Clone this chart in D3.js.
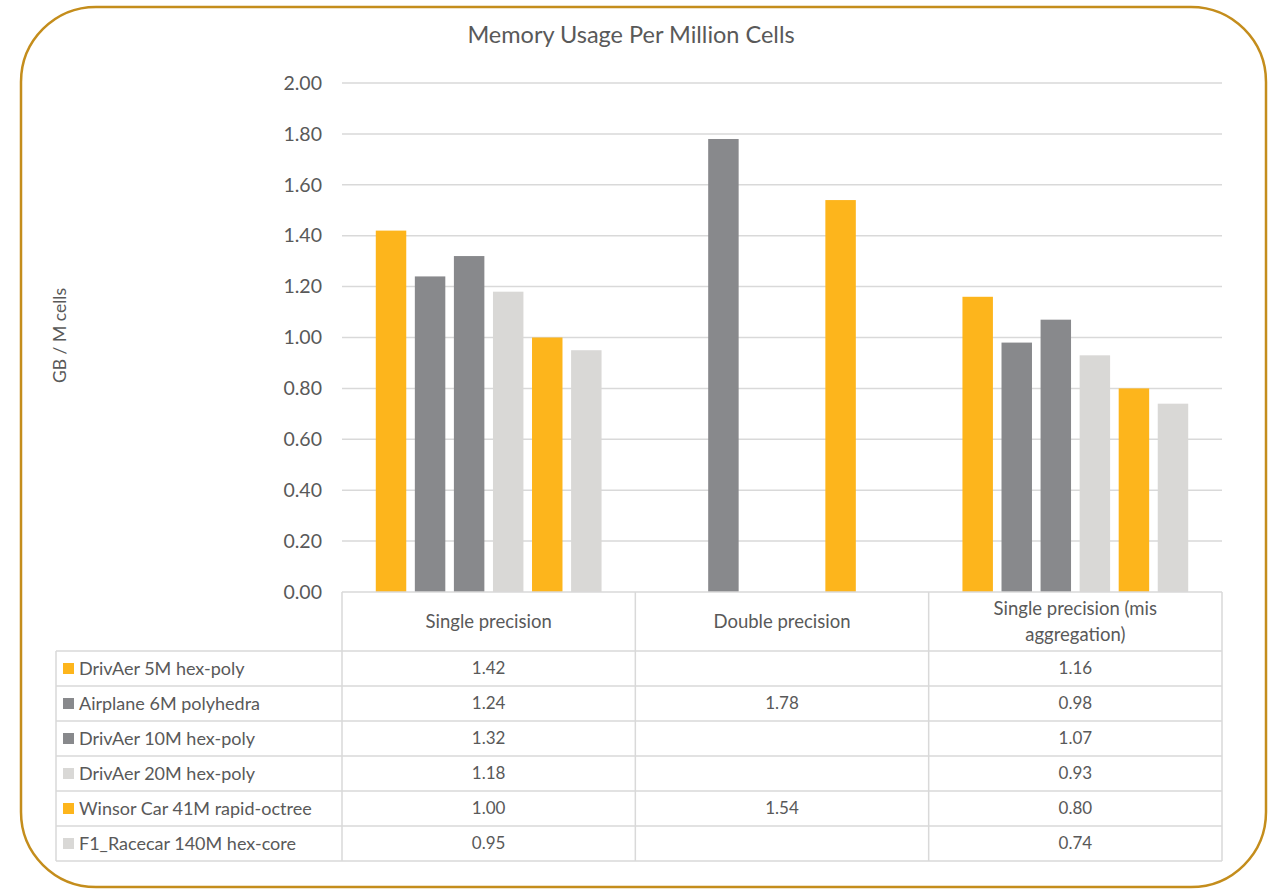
<!DOCTYPE html>
<html>
<head>
<meta charset="utf-8">
<script src="https://cdn.jsdelivr.net/npm/d3@7"></script>
<style>
  body { margin: 0; background: #fff; }
  svg { display: block; }
  text { font-family: Lato, "Open Sans", sans-serif; fill: #595959; }
</style>
</head>
<body>
<svg id="chart" width="1273" height="889"></svg>
<script>
// Chart data
const categories = ["Single precision", "Double precision", "Single precision (mis aggregation)"];
const categoryLabelLines = [["Single precision"], ["Double precision"], ["Single precision (mis", "aggregation)"]];
const seriesNames = [
  "DrivAer 5M hex-poly",
  "Airplane 6M polyhedra",
  "DrivAer 10M hex-poly",
  "DrivAer 20M hex-poly",
  "Winsor Car 41M rapid-octree",
  "F1_Racecar 140M hex-core"
];
const seriesColors = ["#FDB51C", "#88898C", "#88898C", "#D9D8D6", "#FDB51C", "#D9D8D6"];
const singlePrecision = [1.42, 1.24, 1.32, 1.18, 1.00, 0.95];
const doublePrecision = [null, 1.78, null, null, 1.54, null];
const misAggregation  = [1.16, 0.98, 1.07, 0.93, 0.80, 0.74];
const yTicks = [0, 0.2, 0.4, 0.6, 0.8, 1.0, 1.2, 1.4, 1.6, 1.8, 2.0];
const titleText = "Memory Usage Per Million Cells";
const yAxisTitle = "GB / M cells";

const valuesByCategory = [singlePrecision, doublePrecision, misAggregation];

const svg = d3.select("#chart");

// Outer rounded frame
svg.append("rect")
  .attr("x", 21).attr("y", 7)
  .attr("width", 1245).attr("height", 880)
  .attr("rx", 75).attr("ry", 75)
  .attr("fill", "#fff")
  .attr("stroke", "#C48D1C")
  .attr("stroke-width", 2.5);

// Plot geometry
const plot = { left: 342, right: 1222, top: 83, bottom: 592 };
const gridColor = "#D9D9D9";

const y = d3.scaleLinear().domain([0, 2]).range([plot.bottom, plot.top]);
const x0 = d3.scaleBand().domain(categories).range([plot.left, plot.right]).padding(0);
const x1 = d3.scaleBand().domain(d3.range(seriesNames.length))
  .range([0, x0.bandwidth()])
  .paddingInner(0.22)
  .paddingOuter(0.865);

// Title
svg.append("text")
  .attr("x", 631).attr("y", 43)
  .attr("text-anchor", "middle")
  .style("font-size", "23.5px")
  .text(titleText);

// Gridlines
svg.append("g")
  .selectAll("line")
  .data(yTicks.filter(d => d > 0))
  .join("line")
  .attr("x1", plot.left).attr("x2", plot.right)
  .attr("y1", d => y(d)).attr("y2", d => y(d))
  .attr("stroke", gridColor).attr("stroke-width", 1.5);

// Y axis labels
const yAxis = d3.axisLeft(y).tickValues(yTicks).tickFormat(d3.format(".2f")).tickSize(0).tickPadding(20);
const yAxisG = svg.append("g").attr("transform", `translate(${plot.left},0)`).call(yAxis);
yAxisG.select(".domain").remove();
yAxisG.selectAll("text")
  .style("font-size", "19.5px")
  .style("font-family", "Lato, 'Open Sans', sans-serif")
  .attr("fill", "#595959");

// Y axis title
svg.append("text")
  .attr("transform", `translate(66, ${(plot.top + plot.bottom) / 2 - 2}) rotate(-90)`)
  .attr("text-anchor", "middle")
  .style("font-size", "17.5px")
  .text(yAxisTitle);

// Bars
const barData = [];
valuesByCategory.forEach((vals, ci) => {
  vals.forEach((v, si) => {
    if (v !== null) barData.push({ cat: categories[ci], si, v });
  });
});
svg.append("g")
  .selectAll("rect")
  .data(barData)
  .join("rect")
  .attr("x", d => x0(d.cat) + x1(d.si))
  .attr("y", d => y(d.v))
  .attr("width", x1.bandwidth())
  .attr("height", d => y(0) - y(d.v))
  .attr("fill", d => seriesColors[d.si]);

// Data table below the plot
const table = { left: 56, headerBottom: 651, rowH: 35 };
const tableBottom = table.headerBottom + table.rowH * seriesNames.length;
const tg = svg.append("g");

// Top line (zero baseline)
tg.append("line")
  .attr("x1", plot.left).attr("x2", plot.right)
  .attr("y1", y(0)).attr("y2", y(0))
  .attr("stroke", gridColor).attr("stroke-width", 1.5);

// Horizontal row lines
tg.selectAll("line.row")
  .data(d3.range(seriesNames.length + 1))
  .join("line")
  .attr("class", "row")
  .attr("x1", table.left).attr("x2", plot.right)
  .attr("y1", i => table.headerBottom + i * table.rowH)
  .attr("y2", i => table.headerBottom + i * table.rowH)
  .attr("stroke", gridColor).attr("stroke-width", 1.5);

// Vertical column lines
const colEdges = categories.map(c => x0(c)).concat([plot.right]);
tg.selectAll("line.col")
  .data(colEdges)
  .join("line")
  .attr("class", "col")
  .attr("x1", d => d).attr("x2", d => d)
  .attr("y1", y(0)).attr("y2", tableBottom)
  .attr("stroke", gridColor).attr("stroke-width", 1.5);
tg.append("line")
  .attr("x1", table.left).attr("x2", table.left)
  .attr("y1", table.headerBottom).attr("y2", tableBottom)
  .attr("stroke", gridColor).attr("stroke-width", 1.5);

// Category headers
const headerMid = (y(0) + table.headerBottom) / 2;
categories.forEach((c, ci) => {
  const lines = categoryLabelLines[ci];
  const lh = 26;
  const t = tg.append("text")
    .attr("x", x0(c) + x0.bandwidth() / 2)
    .attr("text-anchor", "middle")
    .style("font-size", "18.5px");
  lines.forEach((ln, li) => {
    t.append("tspan")
      .attr("x", x0(c) + x0.bandwidth() / 2)
      .attr("y", headerMid + (li - (lines.length - 1) / 2) * lh)
      .attr("dy", "0.35em")
      .text(ln);
  });
});

// Legend rows and values
const fmt = d3.format(".2f");
seriesNames.forEach((name, si) => {
  const rowMid = table.headerBottom + si * table.rowH + table.rowH / 2;
  tg.append("rect")
    .attr("x", 63).attr("y", rowMid - 5.5)
    .attr("width", 11).attr("height", 11)
    .attr("fill", seriesColors[si]);
  tg.append("text")
    .attr("x", 79).attr("y", rowMid).attr("dy", "0.35em")
    .style("font-size", "18px")
    .text(name);
  valuesByCategory.forEach((vals, ci) => {
    if (vals[si] === null) return;
    tg.append("text")
      .attr("x", x0(categories[ci]) + x0.bandwidth() / 2)
      .attr("y", rowMid).attr("dy", "0.35em")
      .attr("text-anchor", "middle")
      .style("font-size", "17px")
      .text(fmt(vals[si]));
  });
});
</script>
</body>
</html>
